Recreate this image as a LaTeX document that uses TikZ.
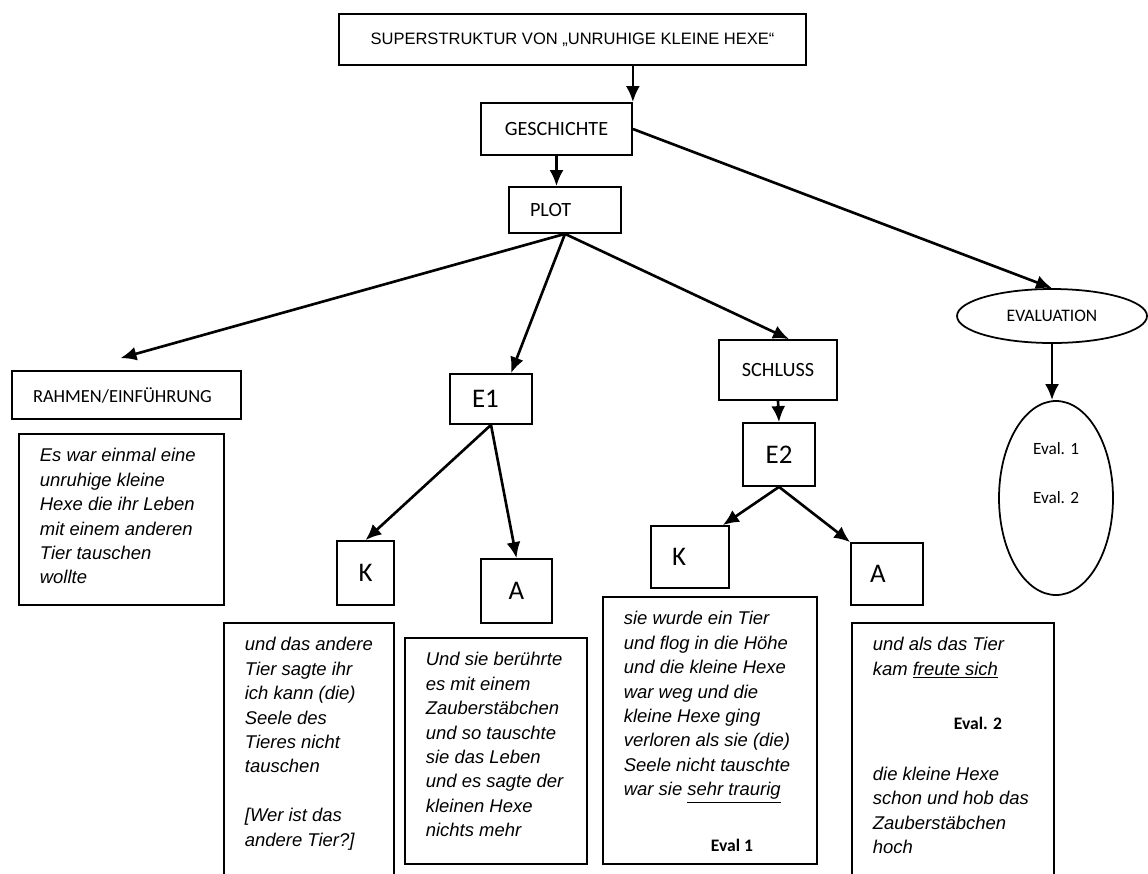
\documentclass[tikz,border=0pt]{standalone}
\usepackage{fontspec}
\setmainfont{Liberation Sans}
\newfontfamily\calfont{Carlito}
\usetikzlibrary{positioning,arrows.meta,shapes.geometric}
\newcommand{\storyfont}{\itshape\fontsize{10.5}{13.9}\selectfont}
\newcommand{\evalfont}{\upshape\calfont\bfseries\fontsize{10}{12}\selectfont}
\newcommand{\storytext}[3]{\parbox[c][#2][t]{#1}{\raggedright #3}}
\tikzset{
  flowarrow/.style={-{Latex[length=3.2mm, width=2.8mm]}, line width=1.5pt},
  titlebox/.style={draw, line width=1pt, inner sep=0pt, minimum width=9.34cm, minimum height=1.02cm, font=\fontsize{9.4}{11}\selectfont},
  labelbox/.style={draw, line width=1pt, inner sep=0pt, font=\calfont\fontsize{11.5}{13}\selectfont},
  letterbox/.style={draw, line width=1pt, inner sep=0pt, font=\calfont\fontsize{15.3}{18}\selectfont},
  storybox/.style={draw, line width=1pt, anchor=north west, inner xsep=0.42cm, inner ysep=0.29cm, font=\storyfont},
  ovalbox/.style={draw, ellipse, line width=1pt, inner sep=0pt, align=center, font=\calfont\fontsize{9.8}{12}\selectfont}
}
\begin{document}
\begin{tikzpicture}[>=Latex]
  \useasboundingbox (0,0) rectangle (22.96,-17.46);
  \clip (0,0) rectangle (22.96,-17.46);
  % upper part of the tree
  \node[titlebox] (title) at (11.45,-0.79) {SUPERSTRUKTUR VON „UNRUHIGE KLEINE HEXE“};
  \node[labelbox, minimum width=3.02cm, minimum height=1.04cm] (gesch) at (11.13,-2.58) {GESCHICHTE};
  \node[labelbox, text width=1.40cm, inner xsep=0.42cm, minimum height=0.92cm, align=left] (plot) at (11.30,-4.20) {PLOT};
  \node[labelbox, minimum width=2.36cm, minimum height=1.20cm] (schluss) at (15.56,-7.40) {SCHLUSS};
  \node[ovalbox, minimum width=3.80cm, minimum height=1.08cm, font=\calfont\fontsize{10}{12}\selectfont] (evaluation) at (21.04,-6.32) {EVALUATION};
  \node[labelbox, text width=3.74cm, inner xsep=0.42cm, minimum height=0.96cm, align=left, font=\calfont\fontsize{10.5}{12}\selectfont] (rahmen) at (2.53,-7.90) {RAHMEN/EINFÜHRUNG};
  % episodes
  \node[letterbox, text width=0.76cm, inner xsep=0.44cm, minimum height=1.00cm, align=left] (e1) at (9.82,-7.98) {E1};
  \node[letterbox, minimum width=1.44cm, minimum height=1.26cm] (e2) at (15.58,-9.09) {E2};
  \node[letterbox, minimum width=1.14cm, minimum height=1.28cm] (k1) at (7.31,-11.46) {K};
  \node[letterbox, minimum width=1.42cm, minimum height=1.28cm] (a1) at (10.33,-11.82) {A};
  \node[letterbox, text width=0.72cm, inner xsep=0.42cm, minimum height=1.24cm, align=left] (k2) at (13.80,-11.14) {K};
  \node[letterbox, text width=0.68cm, inner xsep=0.38cm, minimum height=1.24cm, align=left] (a2) at (17.74,-11.48) {A};
  \node[ovalbox, minimum width=2.28cm, minimum height=3.88cm] (evals) at (21.12,-9.96) {Eval. 1\\[16pt]Eval. 2\\[16pt]\mbox{}};
  % story texts
  \node[storybox] (t1) at (0.36,-8.66) {\storytext{3.26cm}{2.84cm}{Es war einmal eine\\ unruhige kleine\\ Hexe die ihr Leben\\ mit einem anderen\\ Tier tauschen\\ wollte}};
  \node[storybox] (t2) at (4.46,-12.44) {\storytext{2.56cm}{4.92cm}{und das andere\\ Tier sagte ihr\\ ich kann (die)\\ Seele des\\ Tieres nicht\\ tauschen\\[13.9pt] {[}Wer ist das\\ andere Tier?]}};
  \node[storybox] (t3) at (8.08,-12.74) {\storytext{2.80cm}{3.94cm}{Und sie berührte\\ es mit einem\\ Zauberstäbchen\\ und so tauschte\\ sie das Leben\\ und es sagte der\\ kleinen Hexe\\ nichts mehr}};
  \node[storybox] (t4) at (12.04,-11.92) {\storytext{3.44cm}{4.76cm}{sie wurde ein Tier\\ und flog in die Höhe\\ und die kleine Hexe\\ war weg und die\\ kleine Hexe ging\\ verloren als sie (die)\\ Seele nicht tauschte\\ war sie \underline{sehr traurig}\\[18pt] \hspace*{1.74cm}{\evalfont Eval 1}}};
  \node[storybox] (t5) at (17.02,-12.44) {\storytext{3.20cm}{4.92cm}{und als das Tier\\ kam \underline{freute sich}\\[17pt] \hspace*{1.62cm}{\evalfont Eval. 2}\\[15pt] die kleine Hexe\\ schon und hob das\\ Zauberstäbchen\\ hoch}};
  % connectors
  \draw[flowarrow] (title.south -| gesch.north east) -- (gesch.north east);
  \draw[flowarrow] (gesch) -- (gesch.south |- plot.north);
  \draw[flowarrow] (plot.south) -- ([shift={(-0.12,0.24)}]rahmen.north);
  \draw[flowarrow] (plot.south) -- ([xshift=0.4cm]e1.north);
  \draw[flowarrow] (plot.south) -- ([xshift=0.22cm]schluss.north);
  \draw[flowarrow] (gesch.east) -- (evaluation.north);
  \draw[flowarrow] (evaluation.south) -- (evaluation.south |- evals.north);
  \draw[flowarrow] (schluss.south) -- (e2.north);
  \draw[flowarrow] (e1.south) -- (k1.north);
  \draw[flowarrow] (e1.south) -- (a1.north);
  \draw[flowarrow] (e2.south) -- ([xshift=-0.14cm]k2.north east);
  \draw[flowarrow] (e2.south) -- (a2.north west);
\end{tikzpicture}
\end{document}
